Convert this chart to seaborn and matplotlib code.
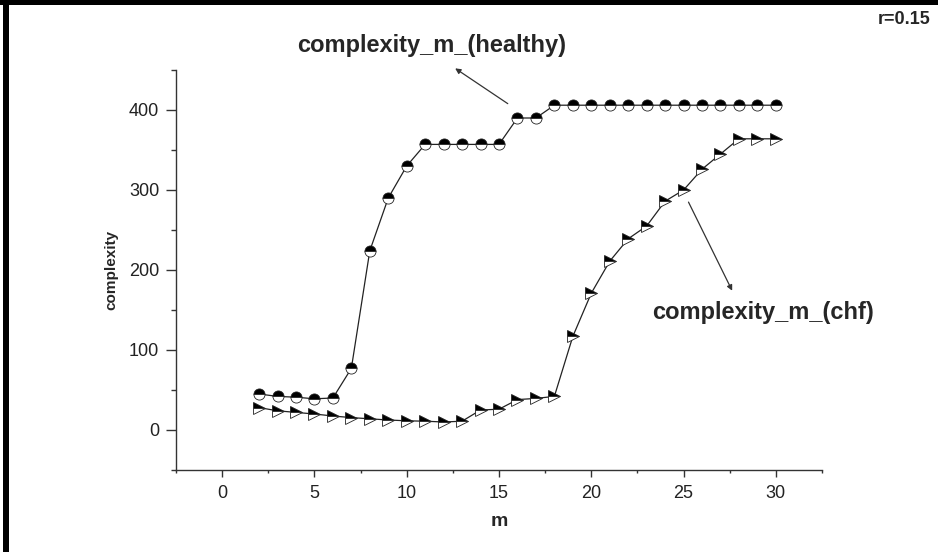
import matplotlib
matplotlib.use("Agg")
import matplotlib.pyplot as plt
import seaborn as sns
from matplotlib.ticker import MultipleLocator
from matplotlib.patches import Rectangle

# ---- data ----
m_values = list(range(2, 31))
healthy = [45, 42, 41, 39, 40, 77, 224, 290, 330, 357, 357, 357, 357, 357,
           390, 390, 406, 406, 406, 406, 406, 406, 406, 406, 406, 406, 406, 406, 406]
chf = [28, 24, 22, 20, 17.5, 15.5, 14, 12.5, 11.5, 11, 10, 11, 25, 26, 38, 39.5,
       42, 117, 171, 211, 239, 255, 286, 300, 326, 345, 364, 364, 364]
x_ticks = [0, 5, 10, 15, 20, 25, 30]
y_ticks = [0, 100, 200, 300, 400]
label_healthy = "complexity_m_(healthy)"
label_chf = "complexity_m_(chf)"
r_label = "r=0.15"

sns.set_style("ticks")
plt.rcParams["font.family"] = ["Liberation Sans", "DejaVu Sans"]

W, H = 938, 552
fig = plt.figure(figsize=(W / 100, H / 100), dpi=100)
ax = fig.add_axes([176 / W, (H - 470) / H, (822 - 176) / W, 400 / H])

line_kw = dict(color="#222222", linewidth=0.9, markeredgecolor="#222222",
               markeredgewidth=0.6, markerfacecolor="black",
               markerfacecoloralt="white", fillstyle="top")
sns.lineplot(x=m_values, y=healthy, ax=ax, marker="o", markersize=8, **line_kw)
sns.lineplot(x=m_values, y=chf, ax=ax, marker=">", markersize=9, **line_kw)

ax.set_xlim(-2.5, 32.5)
ax.set_ylim(-50, 450)
ax.set_xticks(x_ticks)
ax.set_yticks(y_ticks)
ax.xaxis.set_minor_locator(MultipleLocator(2.5))
ax.yaxis.set_minor_locator(MultipleLocator(50))
sns.despine(ax=ax)
for s in ("left", "bottom"):
    ax.spines[s].set_color("#333333")
    ax.spines[s].set_linewidth(1.0)
ax.tick_params(axis="x", which="major", direction="out", length=5, width=1.0,
               color="#333333", labelsize=13, pad=6, labelcolor="#222222")
ax.tick_params(axis="x", which="minor", direction="out", length=2.5, width=1.0,
               color="#333333")
ax.tick_params(axis="y", which="major", direction="out", length=7, width=1.0,
               color="#333333", labelsize=13, pad=5, labelcolor="#222222")
ax.tick_params(axis="y", which="minor", direction="out", length=3.5, width=1.0,
               color="#333333")
ax.set_xlabel("m", fontsize=14, fontweight="bold", labelpad=8)
ax.set_ylabel("complexity", fontsize=11, fontweight="bold", labelpad=8)

# annotations
ax.text(11.35, 481, label_healthy, fontsize=17, fontweight="bold",
        ha="center", va="center", clip_on=False)
ax.annotate("", xy=(12.5, 454), xytext=(15.6, 406), annotation_clip=False,
            arrowprops=dict(arrowstyle="-|>", color="#333333", lw=0.9,
                            mutation_scale=8))
ax.text(23.27, 147.5, label_chf, fontsize=17, fontweight="bold",
        ha="left", va="center")
ax.annotate("", xy=(27.7, 171), xytext=(25.2, 288),
            arrowprops=dict(arrowstyle="-|>", color="#333333", lw=0.9,
                            mutation_scale=8))

fig.text(930 / W, 1 - 20 / H, r_label, fontsize=13, fontweight="bold",
         ha="right", va="center")

# black frame (left and top) as in the scanned figure
fig.add_artist(Rectangle((3 / W, 0), 6 / W, 1, transform=fig.transFigure,
                         color="black", lw=0))
fig.add_artist(Rectangle((0, 1 - 5 / H), 1, 5 / H, transform=fig.transFigure,
                         color="black", lw=0))

fig.savefig("out.png", dpi=100)
